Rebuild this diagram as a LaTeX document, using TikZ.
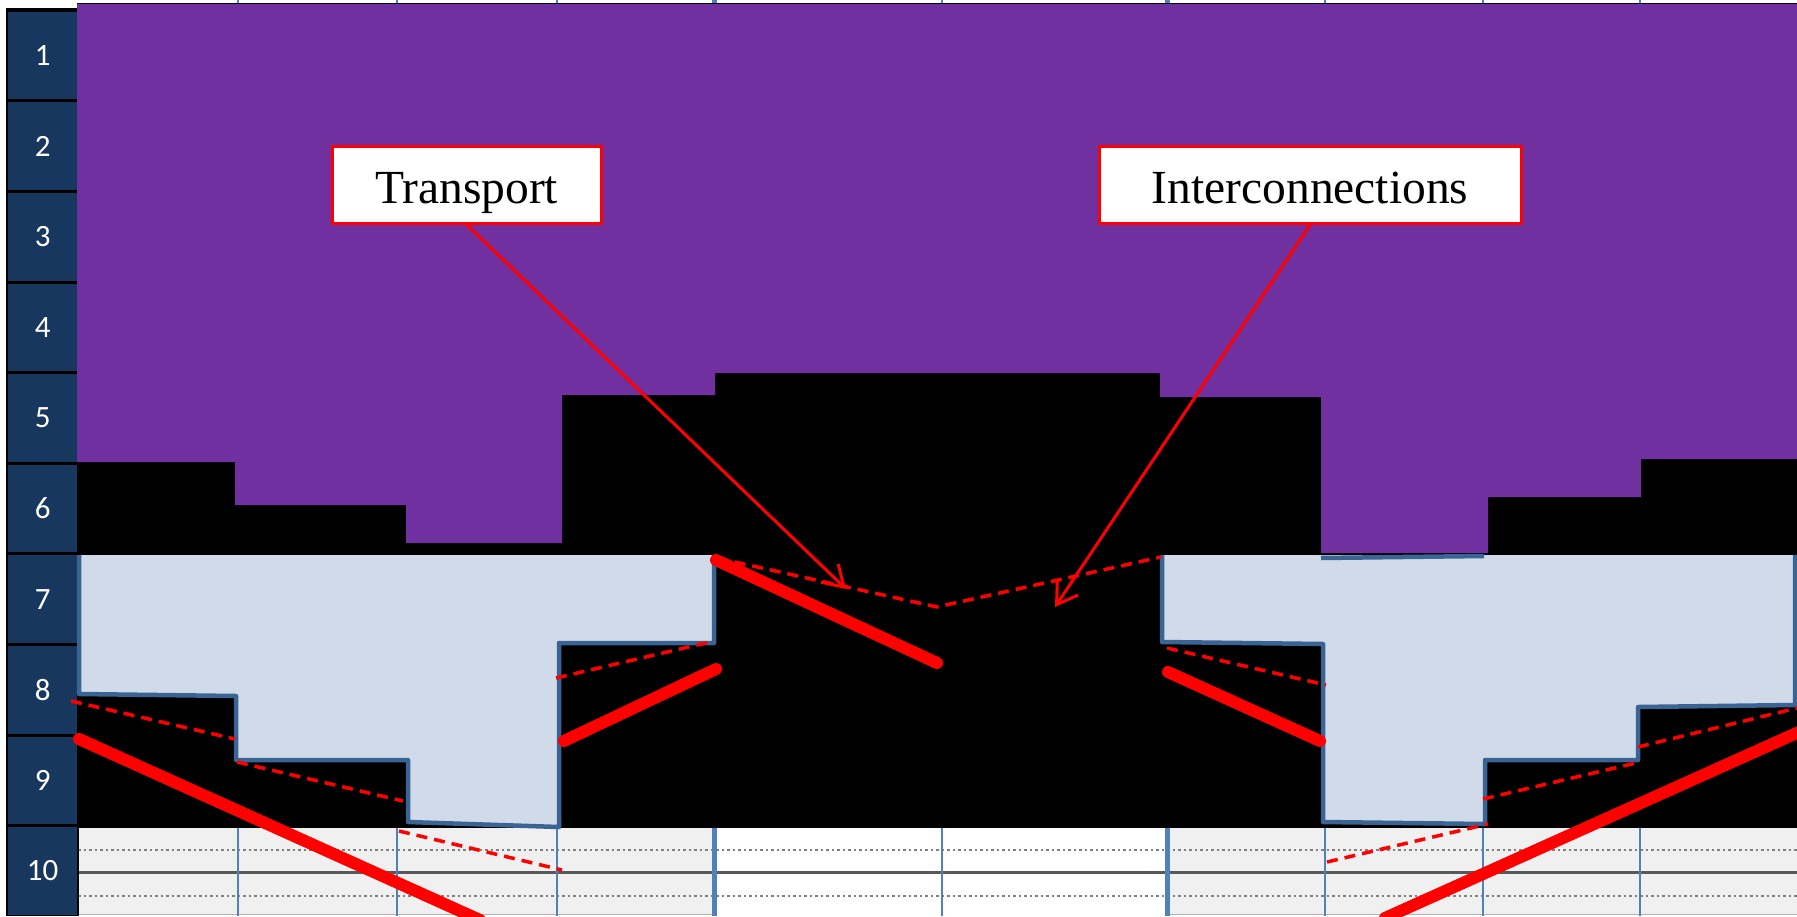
\documentclass[tikz,border=0pt]{standalone}
\usepackage{fontspec}
\setmainfont{Liberation Serif}
\newfontfamily\labelfont{Carlito}
\usetikzlibrary{arrows.meta}
\definecolor{plum}{HTML}{7030A0}
\definecolor{paleblue}{HTML}{D0DAE8}
\definecolor{edgeblue}{HTML}{3A6494}
\definecolor{navy}{HTML}{17375E}
\definecolor{gridblue}{HTML}{4F81BD}
\definecolor{bandgrey}{HTML}{F0F0F0}
\definecolor{ruleg}{HTML}{595959}

\begin{document}
\begin{tikzpicture}[x=1pt,y=-1pt,
  rowlabel/.style={fill=navy, text=white, font=\labelfont\fontsize{31}{33}\selectfont,
    minimum width=69pt, minimum height=87.6pt, inner sep=0pt, anchor=north west},
  callout/.style={draw=red, line width=3pt, fill=white, inner sep=0pt,
    text height=46pt, text depth=9pt, font=\fontsize{47.5}{54}\selectfont},
  thickred/.style={red, line width=12pt, line cap=round},
  dashred/.style={red, line width=3.5pt, dash pattern=on 11pt off 7pt, line join=round},
  pointer/.style={red, line width=3pt, -{Straight Barb[length=20pt,width=25pt]}},
  blueedge/.style={draw=edgeblue, line width=4.5pt, line join=round},
  gridthin/.style={gridblue, line width=2.5pt},
  gridthick/.style={gridblue, line width=5pt},
]
\useasboundingbox (0,0) rectangle (1797,916);
\clip (0,0) rectangle (1797,916);
\fill[white] (0,0) rectangle (1797,916);

% bottom band (row 10)
\fill[bandgrey] (78,828) rectangle (714,914);
\fill[bandgrey] (1167,828) rectangle (1797,914);
\draw[gray!60, line width=1.5pt] (78,914.5) -- (714,914.5) (1167,914.5) -- (1797,914.5);
\draw[gray, line width=2.5pt, dash pattern=on 2.5pt off 3pt] (78,850) -- (1797,850);
\draw[gray, line width=2.5pt, dash pattern=on 2.5pt off 3pt] (78,896) -- (1797,896);
\draw[ruleg, line width=3pt] (78,872) -- (1797,872);

% column grid
\foreach \gx in {238,397,557,1325,1483,1640}
  \draw[gridthin] (\gx,0) -- (\gx,916);
\foreach \gx in {714,1167}
  \draw[gridthick] (\gx,0) -- (\gx,916);
\draw[gridthin] (942,0) -- (942,916);

% row label column
\fill[black] (6,8) rectangle (79,916);
\foreach \k in {1,...,10}
  \node[rowlabel] (row\k) at (8,{10+90.6*(\k-1)+1.5}) {\k};

% dark field
\fill[black] (77,3) rectangle (1797,828);

% upper purple mass
\fill[plum] (77,4) -- (1797,4) -- (1797,459) -- (1641,459) -- (1641,497)
  -- (1488,497) -- (1488,553) -- (1321,553) -- (1321,397) -- (1160,397)
  -- (1160,373) -- (715,373) -- (715,395) -- (562,395) -- (562,543)
  -- (406,543) -- (406,505) -- (235,505) -- (235,462) -- (77,462) -- cycle;

% left stepped block
\fill[paleblue] (79,555) -- (714,555) -- (714,643) -- (559,643) -- (559,827)
  -- (408,822) -- (408,760) -- (236,760) -- (236,696) -- (79,694) -- cycle;
\draw[blueedge] (714,555) -- (714,643) -- (559,643) -- (559,827) -- (408,822)
  -- (408,760) -- (236,760) -- (236,696) -- (79,694) -- (79,555);

% right stepped block
\fill[paleblue] (1162,555) -- (1797,555) -- (1797,705) -- (1638,707) -- (1638,760)
  -- (1485,760) -- (1485,824) -- (1323,822) -- (1323,644) -- (1162,642) -- cycle;
\draw[blueedge] (1162,555) -- (1162,642) -- (1323,644) -- (1323,822) -- (1485,824)
  -- (1485,760) -- (1638,760) -- (1638,707) -- (1795,705) -- (1795,555);
\draw[blueedge] (1321,558) -- (1484,556);

% dashed profile lines
\draw[dashred] (71,701) -- (235,739);
\draw[dashred] (237,762) -- (403,801);
\draw[dashred] (399,831) -- (562,870);
\draw[dashred] (556,678) -- (714,641);
\draw[dashred] (717,558) -- (937,607) -- (1161,557);
\draw[dashred] (1167,648) -- (1326,685);
\draw[dashred] (1483,799) -- (1640,762);
\draw[dashred] (1638,747) -- (1797,708);
\draw[dashred] (1327,862) -- (1488,824);

% thick slope lines
\draw[thickred] (79,739) -- (480,920);
\draw[thickred] (564,741) -- (716,669);
\draw[thickred] (716,560) -- (937,663);
\draw[thickred] (1168,672) -- (1320,741);
\draw[thickred] (1385,918) -- (1810,727);

% callouts
\coordinate (transtip) at (846,589);
\coordinate (intertip) at (1055,607);
\node[callout, minimum width=269pt, minimum height=77pt] (transport) at (466.5,184.5) {Transport};
\node[callout, minimum width=422pt, minimum height=77pt] (interconn) at (1310,185) {Interconnections};
\draw[pointer] (transport.south) -- (transtip);
\draw[pointer] (interconn.south) -- (intertip);
\end{tikzpicture}
\end{document}
